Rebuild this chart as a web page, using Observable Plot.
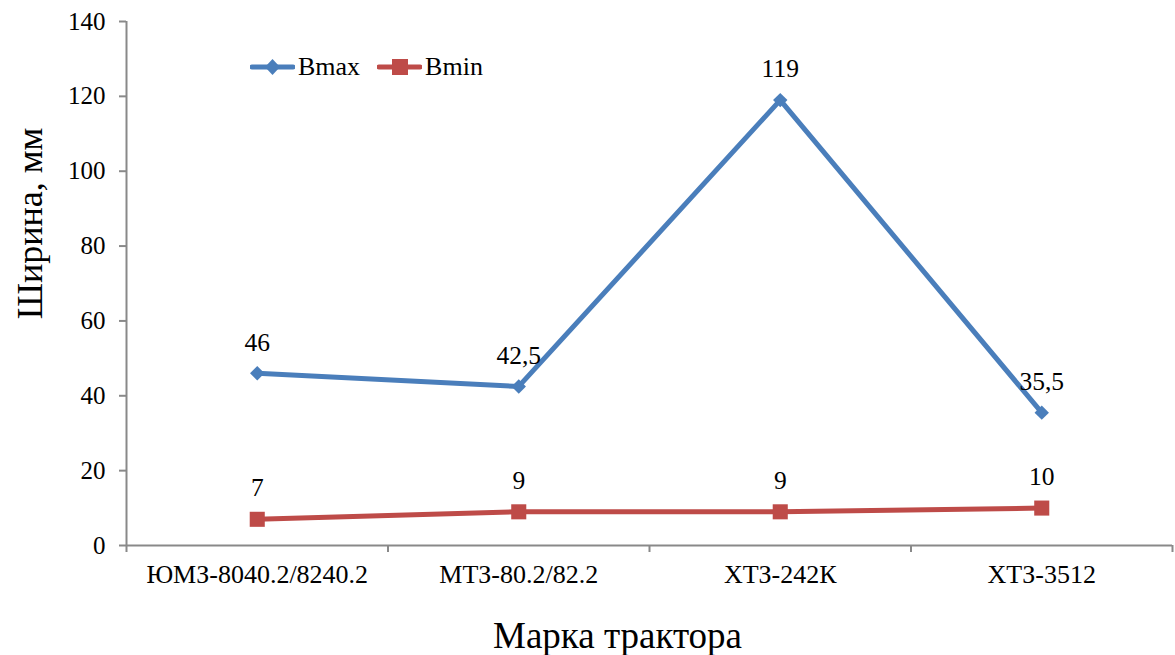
<!DOCTYPE html>
<html>
<head>
<meta charset="utf-8">
<script src="https://cdn.jsdelivr.net/npm/d3@7"></script>
<script src="https://cdn.jsdelivr.net/npm/@observablehq/plot@0.6"></script>
<style>
  body { margin: 0; background: #fff; }
  #chart { position: relative; width: 1175px; height: 655px; font-family: "Liberation Serif", "DejaVu Serif", serif; }
  #chart svg text { font-family: "Liberation Serif", "DejaVu Serif", serif !important; }
  .legend { position: absolute; left: 250px; top: 50px; display: flex; align-items: center; font-size: 26px; color: #000; font-family: "Liberation Serif", "DejaVu Serif", serif; }
  .legend .item { display: flex; align-items: center; margin-right: 17px; }
  .legend svg { display: block; margin-right: 3px; }
</style>
</head>
<body>
<div id="chart"></div>
<script>
// Tractor models along the x axis
const tractors = ["ЮМЗ-8040.2/8240.2", "МТЗ-80.2/82.2", "ХТЗ-242К", "ХТЗ-3512"];
// Width values, mm
const bmax = [46, 42.5, 119, 35.5];
const bmin = [7, 9, 9, 10];
// Series names and colours
const seriesNames = ["Bmax", "Bmin"];
const seriesColors = ["#4A7EBB", "#BE4B48"];
const seriesSymbols = ["diamond2", "square"];
// Y axis ticks
const yTicks = [0, 20, 40, 60, 80, 100, 120, 140];

const axisGray = "#898989";
const font = "Liberation Serif";

// Each category sits in the middle of its unit-wide slot: 0.5, 1.5, ...
const rows = [
  ...tractors.map((t, i) => ({tractor: t, pos: i + 0.5, value: bmax[i], series: seriesNames[0]})),
  ...tractors.map((t, i) => ({tractor: t, pos: i + 0.5, value: bmin[i], series: seriesNames[1]}))
];
const slotEdges = d3.range(tractors.length + 1);
const slotCenters = tractors.map((t, i) => i + 0.5);
const fmt = v => String(v).replace(".", ",");

const chart = Plot.plot({
  width: 1175,
  height: 655,
  marginLeft: 126,
  marginRight: 3,
  marginTop: 21,
  marginBottom: 110,
  style: {background: "white", color: "black"},
  x: {type: "linear", domain: [0, tractors.length]},
  y: {domain: [0, 140]},
  color: {domain: seriesNames, range: seriesColors},
  symbol: {domain: seriesNames, range: seriesSymbols},
  marks: [
    // axis lines
    Plot.ruleY([0], {stroke: axisGray, strokeWidth: 2}),
    Plot.ruleX([0], {stroke: axisGray, strokeWidth: 2}),
    Plot.axisY({ticks: yTicks, tickSize: 7, tickPadding: 14, fontSize: 25, fontFamily: font, stroke: axisGray, strokeWidth: 2, fill: "black", label: null}),
    // tick marks on slot boundaries
    Plot.axisX({ticks: slotEdges, tickSize: 7, tickFormat: () => "", stroke: axisGray, strokeWidth: 2, label: null}),
    // category names in slot centres
    Plot.axisX({ticks: slotCenters, tickSize: 0, tickPadding: 19, fontSize: 26, fontFamily: font, fill: "black",
      tickFormat: d => tractors[Math.floor(d)], label: null}),
    Plot.line(rows, {x: "pos", y: "value", z: "series", stroke: "series", strokeWidth: 5, strokeLinejoin: "round"}),
    Plot.dot(rows.filter(d => d.series === "Bmax"), {x: "pos", y: "value", symbol: "series", fill: "series", r: 6.5, stroke: null}),
    Plot.dot(rows.filter(d => d.series === "Bmin"), {x: "pos", y: "value", symbol: "series", fill: "series", r: 8.5, stroke: null}),
    // value labels
    Plot.text(rows, {x: "pos", y: "value", text: d => fmt(d.value), dy: -31, fontSize: 25.5, fontFamily: font, fill: "black"}),
    // axis titles
    Plot.text(["Ширина, мм"], {frameAnchor: "left", textAnchor: "middle", lineAnchor: "middle", dx: -96, dy: -60, rotate: -90, fontSize: 36, fontFamily: font, fill: "black"}),
    Plot.text(["Марка трактора"], {frameAnchor: "bottom", textAnchor: "middle", lineAnchor: "middle", dx: -32, dy: 91, fontSize: 37, fontFamily: font, fill: "black"})
  ]
});

const root = document.getElementById("chart");
root.appendChild(chart);

// Legend drawn over the plot area
const legend = document.createElement("div");
legend.className = "legend";
const sym = {
  diamond2: c => `<path d="M22.5,9 L30,17 L22.5,25 L15,17 Z" fill="${c}"/>`,
  square: c => `<rect x="15" y="9" width="16" height="16" fill="${c}"/>`
};
seriesNames.forEach((name, i) => {
  const item = document.createElement("div");
  item.className = "item";
  item.innerHTML =
    `<svg width="45" height="34" viewBox="0 0 45 34">` +
    `<line x1="2" y1="17" x2="43" y2="17" stroke="${seriesColors[i]}" stroke-width="5" stroke-linecap="round"/>` +
    sym[seriesSymbols[i]](seriesColors[i]) +
    `</svg><span>${name}</span>`;
  legend.appendChild(item);
});
root.appendChild(legend);
</script>
</body>
</html>
